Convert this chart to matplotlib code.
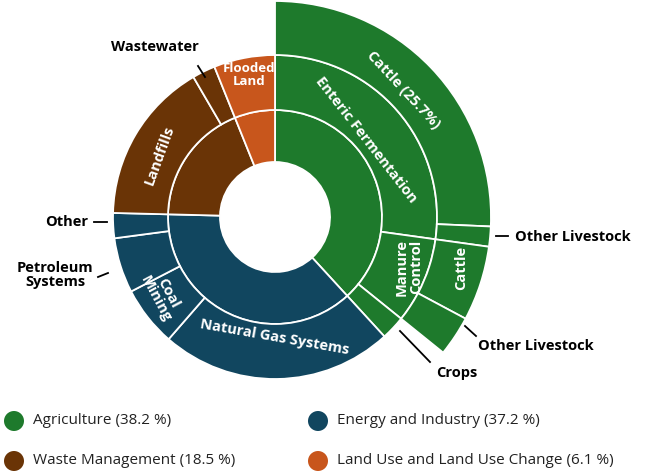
import matplotlib.pyplot as plt
from matplotlib.patches import Wedge, Circle

plt.rcParams['font.family'] = ['Open Sans', 'DejaVu Sans']

# shares in percent of total, ordered clockwise from 12 o'clock
sectors = ["Agriculture", "Energy and Industry", "Waste Management", "Land Use and Land Use Change"]
sector_pct = [38.2, 37.2, 18.5, 6.1]
sector_colors = ["#1e7a2c", "#11465f", "#6a3406", "#c8561c"]

# middle ring: (name, pct, sector index)
sources = [("Enteric Fermentation", 27.2, 0), ("Manure Control", 8.6, 0), ("Crops", 2.4, 0),
           ("Natural Gas Systems", 23.2, 1), ("Coal Mining", 6.0, 1), ("Petroleum Systems", 5.5, 1),
           ("Other", 2.5, 1), ("Landfills", 16.2, 2), ("Wastewater", 2.3, 2), ("Flooded Land", 6.1, 3)]
# outer ring: (name, pct or None for gap, sector index)
animals = [("Cattle", 25.7, 0), ("Other Livestock", 1.5, 0), ("Cattle", 5.6, 0),
           ("Other Livestock", 3.0, 0)]

W, H = 646, 474
CX, CY = 275, H - 217
R0, R1, R2, R3 = 55, 107, 162, 216


def ring(ax, pcts, colors, r_in, r_out, start=0.0):
    a = start
    for p, c in zip(pcts, colors):
        a1, a2 = a * 3.6, (a + p) * 3.6
        ax.add_patch(Wedge((CX, CY), r_out, 90 - a2, 90 - a1, width=r_out - r_in,
                           facecolor=c, edgecolor="white", linewidth=1.3))
        a += p


fig = plt.figure(figsize=(W / 100, H / 100), dpi=100)
ax = fig.add_axes([0, 0, 1, 1])
ax.set_xlim(0, W)
ax.set_ylim(0, H)
ax.axis("off")

ring(ax, sector_pct, sector_colors, R0, R1)
ring(ax, [s[1] for s in sources], [sector_colors[s[2]] for s in sources], R1, R2)
ring(ax, [a[1] for a in animals], [sector_colors[a[2]] for a in animals], R2, R3)

lab = dict(color="white", fontsize=10.5, fontweight="bold", ha="center", va="center")
ax.text(403, H - 90, "Cattle (25.7%)", rotation=-47, **lab)
ax.text(366, H - 140, "Enteric Fermentation", rotation=-52, **lab)
ax.text(409, H - 267, "Manure\nControl", rotation=90, linespacing=1.0, **lab)
ax.text(461, H - 268, "Cattle", rotation=90, **lab)
ax.text(275, H - 337, "Natural Gas Systems", rotation=-10, **lab)
ax.text(162, H - 296, "Coal\nMining", rotation=-62, linespacing=0.95, **lab)
ax.text(160, H - 155, "Landfills", rotation=70, **lab)
ax.text(249, H - 75, "Flooded\nLand", linespacing=1.0, **{**lab, "fontsize": 9.5})

out = dict(color="black", fontsize=10.5, fontweight="bold", va="center")
leaders = [((198, 66), (205, 77), "Wastewater", (155, 47), "center"),
           ((94, 222), (107, 222), "Other", (88, 222), "right"),
           ((98, 277), (108, 273), "Petroleum\nSystems", (55, 275), "center"),
           ((496, 236), (508, 236), "Other Livestock", (515, 237), "left"),
           ((465, 326), (476, 336), "Other Livestock", (478, 346), "left"),
           ((400, 331), (430, 362), "Crops", (436, 373), "left")]
for p1, p2, txt, pos, ha in leaders:
    ax.plot([p1[0], p2[0]], [H - p1[1], H - p2[1]], color="black", linewidth=1.3)
    ax.text(pos[0], H - pos[1], txt, ha=ha, linespacing=1.0, **out)

legend_labels = [f"{s} ({p} %)" for s, p in zip(sectors, sector_pct)]
legend_pos = [(14, 421), (318, 421), (14, 461), (318, 461)]
for (x, y), name, c in zip(legend_pos, legend_labels, sector_colors):
    ax.add_patch(Circle((x, H - y), 10, facecolor=c, edgecolor="none"))
    ax.text(x + 19, H - y, name, fontsize=11, va="center", color="#222222")

fig.savefig("out.png", dpi=100)
